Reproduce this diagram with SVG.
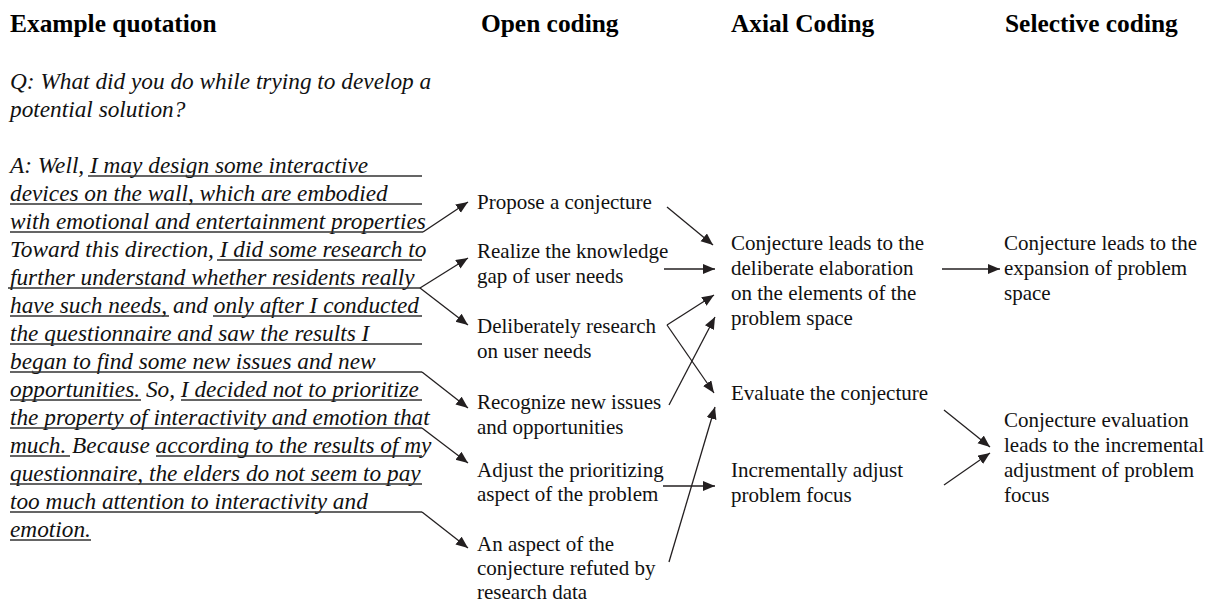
<svg xmlns="http://www.w3.org/2000/svg" width="1213" height="603" viewBox="0 0 1213 603">
<defs>
<style>
.h{font-family:"Liberation Serif","Times New Roman",serif;font-weight:bold;font-size:25.4px;fill:#000}
.q{font-family:"Liberation Serif","Times New Roman",serif;font-style:italic;font-size:23.3px;fill:#111}
.t{font-family:"Liberation Serif","Times New Roman",serif;font-size:21px;fill:#111}
.u{stroke:#333;stroke-width:1.3;fill:none}
.c{stroke:#231f20;stroke-width:1.3;fill:none;marker-end:url(#ah)}
</style>
<marker id="ah" markerUnits="userSpaceOnUse" markerWidth="14" markerHeight="12" refX="12" refY="5" orient="auto">
<path d="M0,0 L12,5 L0,10 z" fill="#231f20"/>
</marker>
</defs>
<rect width="1213" height="603" fill="#fff"/>
<g id="headers">
<text class="h" x="10" y="32">Example quotation</text>
<text class="h" x="481" y="32">Open coding</text>
<text class="h" x="731" y="32">Axial Coding</text>
<text class="h" x="1005" y="32">Selective coding</text>
</g>
<g id="quote">
<text class="q" x="10" y="89">Q: What did you do while trying to develop a</text>
<text class="q" x="10" y="117">potential solution?</text>
<text class="q" x="10" y="173">A: Well, I may design some interactive</text>
<text class="q" x="10" y="201">devices on the wall, which are embodied</text>
<text class="q" x="10" y="229">with emotional and entertainment properties</text>
<text class="q" x="10" y="257">Toward this direction, I did some research to</text>
<text class="q" x="10" y="285">further understand whether residents really</text>
<text class="q" x="10" y="313">have such needs, and only after I conducted</text>
<text class="q" x="10" y="341">the questionnaire and saw the results I</text>
<text class="q" x="10" y="369">began to find some new issues and new</text>
<text class="q" x="10" y="397">opportunities. So, I decided not to prioritize</text>
<text class="q" x="10" y="425">the property of interactivity and emotion that</text>
<text class="q" x="10" y="453">much. Because according to the results of my</text>
<text class="q" x="10" y="481">questionnaire, the elders do not seem to pay</text>
<text class="q" x="10" y="509">too much attention to interactivity and</text>
<text class="q" x="10" y="537">emotion.</text>
<path class="u" d="M88,176H422 M10,204H422 M10,232H423 M217,260H422 M8,288H420 M10,316H169 M213,316H422 M10,344H422 M10,372H422 M10,400H141 M181,400H422 M10,428H422 M10,456H70 M156,456H422 M10,484H422 M10,512H422 M10,540H91"/>
</g>
<g id="open-propose"><text class="t" x="477" y="209">Propose a conjecture</text></g>
<g id="open-realize"><text class="t" x="477" y="258">Realize the knowledge</text><text class="t" x="477" y="283">gap of user needs</text></g>
<g id="open-research"><text class="t" x="477" y="333">Deliberately research</text><text class="t" x="477" y="358">on user needs</text></g>
<g id="open-recognize"><text class="t" x="477" y="409">Recognize new issues</text><text class="t" x="477" y="434">and opportunities</text></g>
<g id="open-adjust"><text class="t" x="477" y="477">Adjust the prioritizing</text><text class="t" x="477" y="501">aspect of the problem</text></g>
<g id="open-refuted"><text class="t" x="477" y="551">An aspect of the</text><text class="t" x="477" y="575">conjecture refuted by</text><text class="t" x="477" y="599">research data</text></g>
<g id="axial-elaboration"><text class="t" x="731" y="250">Conjecture leads to the</text><text class="t" x="731" y="275">deliberate elaboration</text><text class="t" x="731" y="300">on the elements of the</text><text class="t" x="731" y="325">problem space</text></g>
<g id="axial-evaluate"><text class="t" x="731" y="400">Evaluate the conjecture</text></g>
<g id="axial-incremental"><text class="t" x="731" y="477">Incrementally adjust</text><text class="t" x="731" y="502">problem focus</text></g>
<g id="selective-expansion"><text class="t" x="1004" y="250">Conjecture leads to the</text><text class="t" x="1004" y="275">expansion of problem</text><text class="t" x="1004" y="300">space</text></g>
<g id="selective-adjustment"><text class="t" x="1004" y="427">Conjecture evaluation</text><text class="t" x="1004" y="452">leads to the incremental</text><text class="t" x="1004" y="477">adjustment of problem</text><text class="t" x="1004" y="502">focus</text></g>
<g id="connectors">
<path class="c" d="M423,232L468,202"/>
<path class="c" d="M420,288L468,258"/>
<path class="c" d="M420,288L468,325"/>
<path class="c" d="M422,372L468,408"/>
<path class="c" d="M422,428L468,463"/>
<path class="c" d="M422,512L468,548"/>
<path class="c" d="M667,207L713,245"/>
<path class="c" d="M664,269L715,269"/>
<path class="c" d="M667,325L714,295"/>
<path class="c" d="M667,325L714,393"/>
<path class="c" d="M669,405L715,317"/>
<path class="c" d="M669,562L715,407"/>
<path class="c" d="M663,486L715,486"/>
<path class="c" d="M942,269L1000,269"/>
<path class="c" d="M944,410L990,447"/>
<path class="c" d="M944,485L990,453"/>
</g>
</svg>
